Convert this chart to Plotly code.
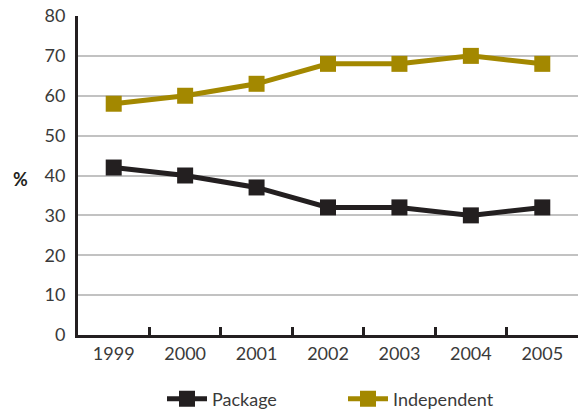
import plotly.graph_objects as go

years = ["1999", "2000", "2001", "2002", "2003", "2004", "2005"]
package = [42, 40, 37, 32, 32, 30, 32]
independent = [58, 60, 63, 68, 68, 70, 68]

BLACK = "#231f20"
GOLD = "#a38800"
FONT = "Lato"

fig = go.Figure()
fig.add_trace(go.Scatter(
    x=years, y=package, name="Package", mode="lines+markers",
    line=dict(color=BLACK, width=5),
    marker=dict(symbol="square", size=16, color=BLACK),
))
fig.add_trace(go.Scatter(
    x=years, y=independent, name="Independent", mode="lines+markers",
    line=dict(color=GOLD, width=5),
    marker=dict(symbol="square", size=16, color=GOLD),
))

fig.update_layout(
    width=578, height=412,
    margin=dict(l=78, r=0, t=16, b=77, autoexpand=False),
    paper_bgcolor="white", plot_bgcolor="white",
    font=dict(family=FONT, size=18, color="#3a3a3a"),
    showlegend=True,
    legend=dict(
        orientation="h", xref="container", yref="container",
        x=162 / 578, xanchor="left", y=1 - 399 / 412, yanchor="middle",
        font=dict(size=18), itemwidth=40,
        entrywidth=126, entrywidthmode="pixels",
    ),
    xaxis=dict(
        type="category", range=[-0.5, 6.5],
        showline=True, linecolor=BLACK, linewidth=3,
        ticks="inside", tickson="boundaries", ticklen=8, tickwidth=3,
        tickcolor=BLACK, showgrid=False, fixedrange=True,
    ),
    yaxis=dict(
        range=[0, 80], dtick=10, tick0=0,
        showline=True, linecolor=BLACK, linewidth=3,
        showgrid=True, gridcolor="#c2c2c2", gridwidth=2,
        zeroline=False, ticks="", ticklabelstandoff=6,
    ),
    annotations=[dict(
        text="<b>%</b>", xref="paper", yref="paper", x=-0.115, y=0.49,
        xanchor="center", yanchor="middle", showarrow=False,
        font=dict(size=18, color=BLACK),
    )],
)

fig.write_html("out.html")
